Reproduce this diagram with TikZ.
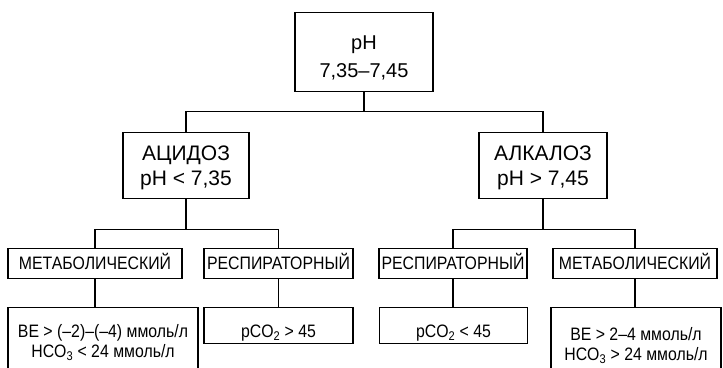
\documentclass[tikz,border=0pt]{standalone}
\usepackage{fontspec}
\setmainfont{Liberation Sans}
\newfontfamily\narrowfont{Liberation Sans}[FakeStretch=0.88]
\usepackage{tikz}
\usetikzlibrary{positioning}

\tikzset{
  box/.style={draw, line width=1.3pt, inner sep=0pt, align=center, anchor=north},
  toptxt/.style={font=\fontsize{20}{28}\selectfont},
  midtxt/.style={font=\fontsize{21}{25}\selectfont},
  lowtxt/.style={font=\narrowfont\fontsize{18}{20}\selectfont},
  link/.style={line width=1.3pt}
}

\begin{document}
\begin{tikzpicture}[x=1pt,y=-1pt]
    \useasboundingbox (0,0) rectangle (723,367);
    \clip (0,0) rectangle (723,367);

    % normal range
    \node[box, toptxt, minimum width=138pt, text height=65pt, text depth=14pt] (ph) at (364,12) {pH\\7,35–7,45};

    % acidosis / alkalosis
    \node[box, midtxt, minimum width=126pt, text height=53pt, text depth=13pt] (acid) at (186,132) {АЦИДОЗ\\pH < 7,35};
    \node[box, midtxt, minimum width=128pt, text height=53pt, text depth=13pt] (alk) at (543,132) {АЛКАЛОЗ\\pH > 7,45};

    % kinds
    \node[box, lowtxt, minimum width=174pt, text height=21pt, text depth=9pt] (metL) at (95,248) {МЕТАБОЛИЧЕСКИЙ};
    \node[box, lowtxt, minimum width=149pt, text height=21pt, text depth=9pt] (respL) at (278.5,248) {РЕСПИРАТОРНЫЙ};
    \node[box, lowtxt, minimum width=148pt, text height=21pt, text depth=9pt] (respR) at (453,248) {РЕСПИРАТОРНЫЙ};
    \node[box, lowtxt, minimum width=164pt, text height=21pt, text depth=9pt] (metR) at (635,248) {МЕТАБОЛИЧЕСКИЙ};

    % criteria
    \node[box, lowtxt, minimum width=190pt, text height=50pt, text depth=60pt] (beL) at (103,307) {BE > (–2)–(–4) ммоль/л\\HCO\textsubscript{3} < 24 ммоль/л};
    \node[box, lowtxt, minimum width=149pt, text height=30pt, text depth=6pt] (pcoL) at (278.5,307) {pCO\textsubscript{2} > 45};
    \node[box, lowtxt, minimum width=148pt, text height=30pt, text depth=6pt] (pcoR) at (453.5,307) {pCO\textsubscript{2} < 45};
    \node[box, lowtxt, minimum width=170pt, text height=53pt, text depth=60pt] (beR) at (636,307) {BE > 2–4 ммоль/л\\HCO\textsubscript{3} > 24 ммоль/л};

    % tree lines
    \foreach \kid in {acid,alk}
        \draw[link] (ph.south) -- ++(0,19) -| (\kid.north);
    \foreach \kid in {metL,respL}
        \draw[link] (acid.south) -- ++(0,30) -| (\kid.north);
    \foreach \kid in {respR,metR}
        \draw[link] (alk.south) -- ++(0,30) -| (\kid.north);
    \draw[link] (metL.south) -- (metL.south |- beL.north);
    \draw[link] (respL.south) -- (respL.south |- pcoL.north);
    \draw[link] (respR.south) -- (respR.south |- pcoR.north);
    \draw[link] (metR.south) -- (metR.south |- beR.north);
\end{tikzpicture}
\end{document}
